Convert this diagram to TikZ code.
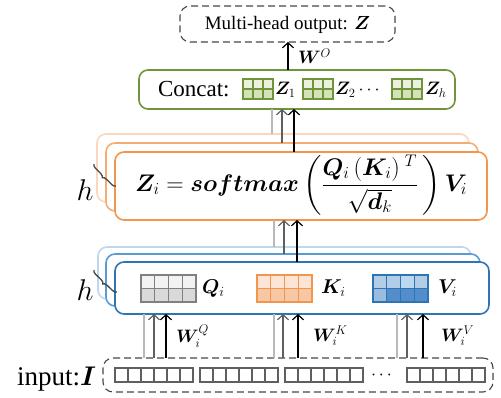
\RequirePackage{fix-cm}
\documentclass[tikz,border=0pt]{standalone}
\usepackage{amsmath}
\usepackage[no-math]{fontspec}
\setmainfont{Liberation Serif}
\usepackage{bm}
\usetikzlibrary{arrows.meta,decorations.pathreplacing}
\definecolor{grn}{RGB}{112,148,58}
\definecolor{grnA}{RGB}{235,241,222}
\definecolor{grnB}{RGB}{212,226,186}
\definecolor{orF}{RGB}{241,150,76}
\definecolor{orM}{RGB}{245,172,115}
\definecolor{orB}{RGB}{250,215,190}
\definecolor{orA}{RGB}{252,228,214}
\definecolor{orC}{RGB}{248,200,165}
\definecolor{blF}{RGB}{46,117,182}
\definecolor{blM}{RGB}{91,155,213}
\definecolor{blB}{RGB}{189,215,238}
\definecolor{blA}{RGB}{180,205,230}
\definecolor{blC}{RGB}{155,188,220}
\definecolor{blD}{RGB}{84,141,204}
\definecolor{gyA}{RGB}{242,242,242}
\definecolor{gyB}{RGB}{217,217,217}
\definecolor{gyE}{RGB}{128,128,128}
\definecolor{lgy}{RGB}{185,185,185}
\definecolor{dgy}{RGB}{95,95,95}
\definecolor{brc}{RGB}{70,70,70}
\definecolor{dash}{RGB}{70,70,70}
\newcommand{\myfs}[1]{\fontsize{#1}{#1}\selectfont}
\begin{document}
\begin{tikzpicture}[x=1pt,y=-1pt,
  every node/.style={inner sep=0pt,outer sep=0pt},
  rbox/.style={draw,rounded corners=9pt,fill=white,line width=1.6pt},
  dbox/.style={draw=dash,rounded corners=10pt,line width=1.1pt,dash pattern=on 7pt off 4pt},
  lgline/.style={draw=lgy,line width=1.1pt},
  darr/.style={draw=dgy,line width=1.2pt,-{Straight Barb[length=5pt,width=11pt]}},
  barr/.style={draw=black,line width=1.2pt,-{Straight Barb[length=5pt,width=11pt]}},
  cell/.style={draw,line width=1.1pt},
  hbrace/.style={draw=brc,line width=1.3pt,decorate,decoration={brace,amplitude=4pt,mirror}},
  lab/.style={font=\myfs{18}}]
\useasboundingbox (0,0) rectangle (501,398);

% ---------- output ----------
\node[dbox,minimum width=215pt,minimum height=36pt] (out) at (287.5,24) {};
\node at (287.5,25) {\myfs{19}Multi-head output: $\bm{Z}$};

% ---------- concat ----------
\node[rbox,draw=grn,minimum width=316pt,minimum height=39pt] (cc) at (297,89.5) {};
\node[anchor=base west] (cctext) at (158,97) {\myfs{23}Concat:};
\foreach \gx in {243,303,392}{
  \foreach \i in {0,1,2}{
    \draw[cell,draw=grn,fill=grnA] (\gx+10*\i,79) rectangle ++(10,10);
    \draw[cell,draw=grn,fill=grnB] (\gx+10*\i,89) rectangle ++(10,10);
  }
}
\node[lab,anchor=base west] (z1) at (275,95) {$\bm{Z}_1$};
\node[lab,anchor=base west] (z2) at (335,95) {$\bm{Z}_2\cdots$};
\node[lab,anchor=base west] (zh) at (425,95) {$\bm{Z}_h$};

% ---------- orange stack ----------
\node[rbox,draw=orB,minimum width=372pt,minimum height=68pt] (ob) at (283,168) {};
\node[rbox,draw=orM,minimum width=372pt,minimum height=68pt] (om) at (292,177) {};
\node[rbox,draw=orF,minimum width=372pt,minimum height=68pt] (of) at (301,186) {};
\node[font=\myfs{24}] (form) at (301,185) {$\bm{Z}_i=\bm{softmax}\left(\dfrac{\bm{Q}_i\,(\bm{K}_i)^{\;T}}{\sqrt{\bm{d}_k}}\,\right)\bm{V}_i$};
\node (h1) at (85,190) {\myfs{30}$h$};
\draw[hbrace] (94,164) -- (116,186);

% ---------- blue stack ----------
\node[rbox,draw=blB,minimum width=373pt,minimum height=52pt] (bb) at (284.5,273) {};
\node[rbox,draw=blM,minimum width=374pt,minimum height=52pt] (bm) at (293,280) {};
\node[rbox,draw=blF,minimum width=374pt,minimum height=52pt] (bf) at (302,288) {};
\node (h2) at (85,290) {\myfs{30}$h$};
\draw[hbrace] (94,270) -- (117,292);

% Q grid
\foreach \i in {0,1,2,3}{
  \draw[cell,draw=gyE,fill=gyA] (141+13.75*\i,275) rectangle ++(13.75,13.5);
  \draw[cell,draw=gyE,fill=gyB] (141+13.75*\i,288.5) rectangle ++(13.75,13.5);
}
% K grid
\foreach \i in {0,1,2,3}{
  \draw[cell,draw=orF,fill=orA] (257+13.75*\i,275) rectangle ++(13.75,13.5);
  \draw[cell,draw=orF,fill=orC] (257+13.75*\i,288.5) rectangle ++(13.75,13.5);
}
% V grid
\foreach \i/\c in {0/blA,1/blA,2/blB,3/blA}{
  \draw[cell,draw=blF,fill=\c] (373+13.75*\i,275) rectangle ++(13.75,13.5);
}
\foreach \i/\c in {0/blC,1/blD,2/blD,3/blD}{
  \draw[cell,draw=blF,fill=\c] (373+13.75*\i,288.5) rectangle ++(13.75,13.5);
}
\node[font=\myfs{20},anchor=base west] (qi) at (202,294) {$\bm{Q}_i$};
\node[font=\myfs{20},anchor=base west] (ki) at (321,294) {$\bm{K}_i$};
\node[font=\myfs{20},anchor=base west] (vi) at (438,294) {$\bm{V}_i$};

% ---------- input ----------
\node[dbox,minimum width=390pt,minimum height=34pt] (inp) at (298,375) {};
\foreach \gx in {115,200,285,407}{
  \foreach \i in {0,...,5}{
    \draw[cell,draw=dgy,fill=white] (\gx+13*\i,368) rectangle ++(13,14);
  }
}
\node[lab] (dots) at (383,375) {$\cdots$};
\node[anchor=base east] (inlab) at (96,385) {\myfs{27}input:$\bm{I}$};

% ---------- connectors ----------
\foreach \x in {144,154,166,274,283,298,397,407,423,284,297,272,282,294,288}
  \coordinate (c\x) at (\x,0);

\draw[lgline] (inp.north -| c144) -- (bf.south -| c144);
\draw[darr] (inp.north -| c154) -- (bf.south -| c154);
\draw[barr] (inp.north -| c166) -- (bf.south -| c166);
\draw[lgline] (inp.north -| c274) -- (bf.south -| c274);
\draw[darr] (inp.north -| c283) -- (bf.south -| c283);
\draw[barr] (inp.north -| c298) -- (bf.south -| c298);
\draw[lgline] (inp.north -| c397) -- (bf.south -| c397);
\draw[darr] (inp.north -| c407) -- (bf.south -| c407);
\draw[barr] (inp.north -| c423) -- (bf.south -| c423);
\node[lab,anchor=west] (wq) at (176,336) {$\bm{W}_i^Q$};
\node[lab,anchor=west] (wk) at (313,336) {$\bm{W}_i^K$};
\node[lab,anchor=west] (wv) at (441,336) {$\bm{W}_i^V$};

\draw[lgline] (bb.north -| c274) -- (of.south -| c274);
\draw[darr] (bm.north -| c284) -- (of.south -| c284);
\draw[barr] (bf.north -| c297) -- (of.south -| c297);

\draw[lgline] (ob.north -| c272) -- (cc.south -| c272);
\draw[darr] (om.north -| c282) -- (cc.south -| c282);
\draw[barr] (of.north -| c294) -- (cc.south -| c294);

\draw[barr] (cc.north -| c288) -- (out.south -| c288);
\node[lab,anchor=west] (wo) at (298,56) {$\bm{W}^O$};
\end{tikzpicture}
\end{document}
